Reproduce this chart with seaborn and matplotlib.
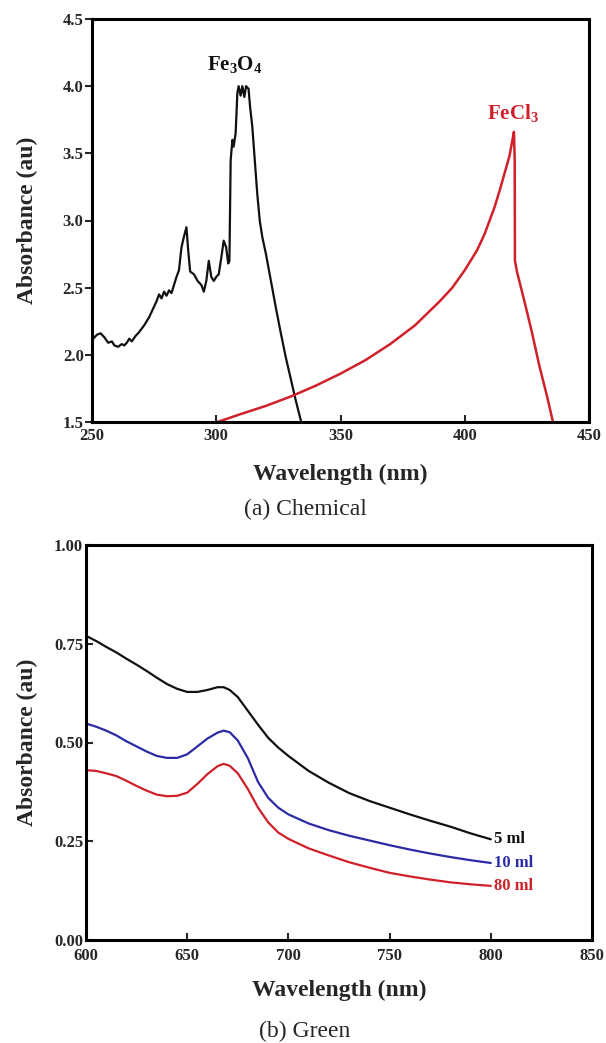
import numpy as np
import pandas as pd
import matplotlib
matplotlib.use("Agg")
import matplotlib.pyplot as plt
import seaborn as sns

# ---------------- data ----------------
fe3o4_wl = [250, 251, 252, 253.5, 255, 256.5, 258, 259, 260.5, 262, 263, 264, 265, 266, 267.5,
            269, 271, 273, 274.5, 276, 277, 278, 279, 280, 281, 282, 283, 284, 285, 286, 287,
            288, 288.7, 289.5, 291, 292.5, 294, 295, 296, 297, 298, 299, 300, 301, 302, 303,
            304, 304.8, 305.3, 305.8, 306.5, 307, 307.8, 308.5, 309, 309.8, 310.5, 311.3, 312,
            313, 313.6, 314.5, 315.5, 316.5, 317.5, 318.5, 320, 322, 324, 326, 328, 330, 332, 334.2]
fe3o4_abs = [2.11, 2.13, 2.15, 2.16, 2.13, 2.09, 2.10, 2.07, 2.06, 2.08, 2.07, 2.09, 2.12, 2.10, 2.14,
             2.17, 2.22, 2.28, 2.34, 2.40, 2.45, 2.42, 2.47, 2.44, 2.48, 2.46, 2.52, 2.58, 2.63, 2.80, 2.88,
             2.95, 2.78, 2.62, 2.60, 2.55, 2.52, 2.47, 2.55, 2.70, 2.58, 2.55, 2.58, 2.60, 2.72, 2.85,
             2.80, 2.68, 2.70, 3.45, 3.60, 3.55, 3.65, 3.95, 4.00, 3.93, 4.00, 3.92, 4.00,
             3.98, 3.85, 3.70, 3.45, 3.20, 3.00, 2.88, 2.75, 2.55, 2.35, 2.16, 1.98, 1.82, 1.66, 1.50]

fecl3_wl = [300.5, 310, 320, 330, 340, 350, 360, 370, 380, 390, 395, 400, 405, 408, 410, 412, 414,
            416, 418, 419, 419.8, 420.1, 420.2, 421, 424, 427, 430, 433, 435.5]
fecl3_abs = [1.50, 1.56, 1.62, 1.69, 1.77, 1.86, 1.96, 2.08, 2.22, 2.40, 2.50, 2.63, 2.78, 2.90, 3.00,
             3.10, 3.22, 3.35, 3.48, 3.58, 3.66, 3.45, 2.70, 2.62, 2.40, 2.17, 1.92, 1.70, 1.50]

green_wl = [600, 605, 610, 615, 620, 625, 630, 635, 640, 645, 650, 655, 660, 665, 668, 671, 675,
            680, 685, 690, 695, 700, 710, 720, 730, 740, 750, 760, 770, 780, 790, 800]
abs_5ml = [0.770, 0.757, 0.742, 0.728, 0.712, 0.697, 0.681, 0.664, 0.648, 0.636, 0.628, 0.628, 0.633,
           0.640, 0.640, 0.633, 0.615, 0.580, 0.545, 0.512, 0.487, 0.466, 0.428, 0.398, 0.372, 0.352,
           0.335, 0.318, 0.302, 0.287, 0.270, 0.255]
abs_10ml = [0.548, 0.540, 0.530, 0.518, 0.503, 0.490, 0.477, 0.466, 0.461, 0.461, 0.470, 0.490, 0.510,
            0.525, 0.530, 0.526, 0.505, 0.460, 0.400, 0.360, 0.335, 0.318, 0.295, 0.278, 0.264, 0.252,
            0.240, 0.229, 0.219, 0.210, 0.202, 0.195]
abs_80ml = [0.430, 0.428, 0.422, 0.415, 0.403, 0.390, 0.378, 0.368, 0.364, 0.365, 0.373, 0.395, 0.420,
            0.440, 0.446, 0.441, 0.422, 0.382, 0.335, 0.298, 0.272, 0.256, 0.232, 0.214, 0.197, 0.183,
            0.170, 0.161, 0.153, 0.146, 0.141, 0.137]

top_xticks = [250, 300, 350, 400, 450]
top_yticks = [1.5, 2.0, 2.5, 3.0, 3.5, 4.0, 4.5]
bot_xticks = [600, 650, 700, 750, 800, 850]
bot_yticks = [0.00, 0.25, 0.50, 0.75, 1.00]
green_labels = ["5 ml", "10 ml", "80 ml"]

RED = "#d0202a"
BLUE = "#2b2ba6"
BLACK = "#111111"

# ---------------- style ----------------
sns.set_style("ticks")
plt.rcParams["font.family"] = ["Liberation Serif", "DejaVu Serif"]
plt.rcParams["mathtext.fontset"] = "custom"
plt.rcParams["mathtext.rm"] = "Liberation Serif:bold"
plt.rcParams["mathtext.it"] = "Liberation Serif:bold"
plt.rcParams["mathtext.bf"] = "Liberation Serif:bold"

fig = plt.figure(figsize=(6.06, 10.43), dpi=100)
W, H = 606, 1043

def axes_px(l, r, t, b):
    return fig.add_axes([l / W, 1 - b / H, (r - l) / W, (b - t) / H])

ax1 = axes_px(92, 589, 19, 422)
ax2 = axes_px(86, 592, 545, 940)

# ---------------- top panel ----------------
df_fe = pd.DataFrame({"wl": fe3o4_wl, "a": fe3o4_abs})
df_cl = pd.DataFrame({"wl": fecl3_wl, "a": fecl3_abs})
sns.lineplot(data=df_fe, x="wl", y="a", ax=ax1, color=BLACK, lw=1.6, sort=False, estimator=None)
sns.lineplot(data=df_cl, x="wl", y="a", ax=ax1, color=RED, lw=1.8, sort=False, estimator=None)
ax1.set_xlim(250, 450)
ax1.set_ylim(1.5, 4.5)
ax1.set_xticks(top_xticks)
ax1.set_yticks(top_yticks)
ax1.set_xticklabels([str(v) for v in top_xticks])
ax1.set_yticklabels([f"{v:.1f}" for v in top_yticks])
ax1.tick_params(axis="x", direction="in", length=5, width=1.5, pad=4)
ax1.tick_params(axis="y", direction="out", length=5, width=1.5, pad=1)
ax1.text(307.5, 4.16, r"Fe$_{3}$O$_{4}$", ha="center", va="center", fontsize=15,
         fontweight="bold", color=BLACK)
ax1.text(419.5, 3.80, r"FeCl$_{3}$", ha="center", va="center", fontsize=15,
         fontweight="bold", color=RED)

# ---------------- bottom panel ----------------
df_g = pd.DataFrame({"wl": green_wl * 3,
                     "a": abs_5ml + abs_10ml + abs_80ml,
                     "vol": sum([[lab] * len(green_wl) for lab in green_labels], [])})
sns.lineplot(data=df_g, x="wl", y="a", hue="vol", hue_order=green_labels,
             palette=[BLACK, BLUE, RED], ax=ax2, lw=1.6, sort=False, estimator=None, legend=False)
ax2.set_xlim(600, 850)
ax2.set_ylim(0, 1.0)
ax2.set_xticks(bot_xticks)
ax2.set_yticks(bot_yticks)
ax2.set_xticklabels([str(v) for v in bot_xticks])
ax2.set_yticklabels([f"{v:.2f}" for v in bot_yticks])
ax2.tick_params(axis="x", direction="in", length=5, width=1.5, pad=5.5)
ax2.tick_params(axis="y", direction="in", length=5, width=1.5, pad=2)
for lab, ys, col in zip(green_labels, [abs_5ml, abs_10ml, abs_80ml], [BLACK, BLUE, RED]):
    ax2.text(green_wl[-1] + 1.5, ys[-1], lab, ha="left", va="center", fontsize=12,
             fontweight="bold", color=col)

# ---------------- common styling ----------------
for ax in (ax1, ax2):
    for sp in ax.spines.values():
        sp.set_visible(True)
        sp.set_linewidth(2.2)
        sp.set_color("black")
    for lbl in ax.get_xticklabels() + ax.get_yticklabels():
        lbl.set_fontweight("bold")
        lbl.set_fontsize(12)
    ax.set_xlabel("Wavelength (nm)", fontsize=17, fontweight="bold")
    ax.set_ylabel("Absorbance (au)", fontsize=17, fontweight="bold")

ax1.yaxis.set_label_coords((38 - 92) / 497, 0.5)
ax1.xaxis.set_label_coords(0.5, (422 - 464) / 403)
ax2.yaxis.set_label_coords((38 - 86) / 506, 0.5)
ax2.xaxis.set_label_coords(0.5, (940 - 980) / 395)

fig.text(305 / W, 1 - 509 / H, "(a) Chemical", ha="center", va="center", fontsize=17)
fig.text(305 / W, 1 - 1031 / H, "(b) Green", ha="center", va="center", fontsize=17)

fig.savefig("out.png", dpi=100)
